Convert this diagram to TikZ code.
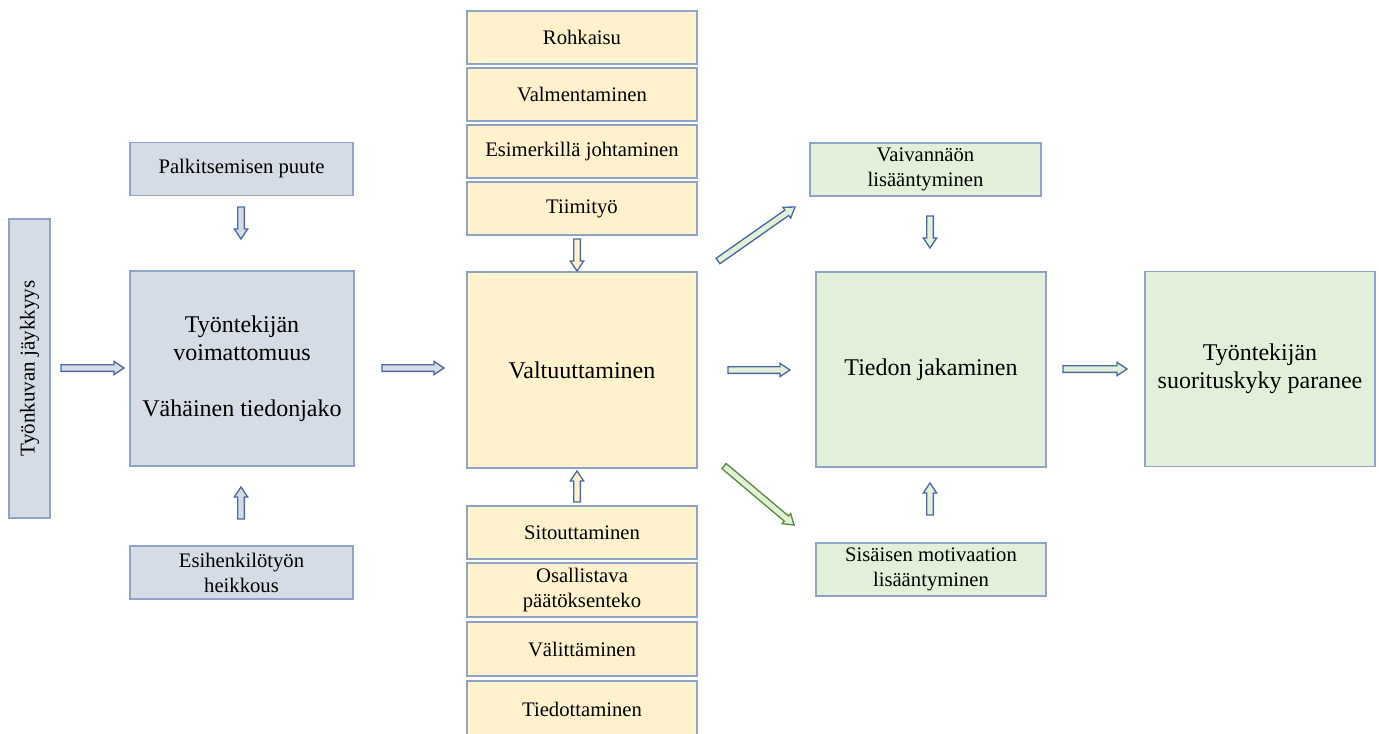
\documentclass[tikz,border=0pt]{standalone}
\usepackage{fontspec}
\setmainfont{Liberation Serif}
\usetikzlibrary{calc}
\definecolor{grayfill}{HTML}{D6DCE5}
\definecolor{yelfill}{HTML}{FFF2CC}
\definecolor{grnfill}{HTML}{E2F0D9}
\definecolor{boxline}{HTML}{8EA3C6}
\definecolor{arrline}{HTML}{4A6AA5}
\definecolor{grnline}{HTML}{5E8C3F}
\tikzset{
  box/.style={draw=boxline, line width=1.2pt, align=center, inner sep=1pt, font=\fontsize{15.5}{18.75}\selectfont},
  smallbox/.style={box, minimum width=#1*0.75pt, minimum height=53*0.75pt},
  bigbox/.style={box, minimum width=230*0.75pt, minimum height=195*0.75pt, font=\fontsize{18}{21}\selectfont},
  gbox/.style={fill=grayfill},
  ybox/.style={fill=yelfill},
  grbox/.style={fill=grnfill},
  barr/.style={draw=arrline, line width=1pt, line join=miter},
}
\newcommand\barrow[4]{% style fill, start, end
  \draw[barr,fill=#2,#1] ($(#3)!2.5pt!90:(#4)$) -- ($($(#4)!7.5pt!(#3)$)!2.5pt!-90:(#3)$)
   -- ($($(#4)!7.5pt!(#3)$)!5pt!-90:(#3)$) -- (#4)
   -- ($($(#4)!7.5pt!(#3)$)!5pt!90:(#3)$) -- ($($(#4)!7.5pt!(#3)$)!2.5pt!90:(#3)$)
   -- ($(#3)!2.5pt!-90:(#4)$) -- cycle;}
\begin{document}
\begin{tikzpicture}[x=0.75pt,y=-0.75pt]
\useasboundingbox (0,0) rectangle (1379,733);
% left column
\node[box,gbox,minimum width=299*0.75pt,minimum height=41*0.75pt,rotate=90,font=\fontsize{15.8}{18}\selectfont] (jay) at (29.5,368.5) {Työnkuvan jäykkyys};
\node[smallbox=223,gbox] (palk) at (241.5,169) {Palkitsemisen puute};
\node[bigbox,gbox,minimum width=224*0.75pt] (voim) at (242,368.5) {Työntekijän\\voimattomuus\\[21pt]Vähäinen tiedonjako};
\node[smallbox=223,gbox] (esih) at (241.5,572.5) {Esihenkilötyön\\heikkous};
% yellow column
\node[smallbox=230,ybox] (rohk) at (582,37.5) {Rohkaisu};
\node[smallbox=230,ybox] (valm) at (582,94.5) {Valmentaminen};
\node[smallbox=230,ybox] (esim) at (582,151.5) {Esimerkillä johtaminen};
\node[smallbox=230,ybox] (tiim) at (582,208.5) {Tiimityö};
\node[bigbox,ybox,minimum height=196*0.75pt] (valt) at (582,370) {Valtuuttaminen};
\node[smallbox=230,ybox] (sito) at (582,532.5) {Sitouttaminen};
\node[smallbox=230,ybox,minimum height=54*0.75pt] (osal) at (582,590) {Osallistava\\päätöksenteko};
\node[smallbox=230,ybox,minimum height=54*0.75pt] (vali) at (582,649) {Välittäminen};
\node[smallbox=230,ybox,minimum height=56*0.75pt] (tied) at (582,709) {Tiedottaminen};
% green column
\node[smallbox=231,grbox] (vaiv) at (925.5,169.5) {Vaivannäön\\lisääntyminen};
\node[bigbox,grbox] (jaka) at (931,369.5) {Tiedon jakaminen};
\node[smallbox=230,grbox] (sisa) at (931,569.5) {Sisäisen motivaation\\lisääntyminen};
\node[bigbox,grbox] (suor) at (1260,369) {Työntekijän\\suorituskyky paranee};
% arrow end points
\coordinate (a1s) at (61,368);  \coordinate (a1e) at (124,368);
\coordinate (a2s) at (382,368); \coordinate (a2e) at (444,368);
\coordinate (a3s) at (728,370); \coordinate (a3e) at (790,370);
\coordinate (a4s) at (1063,369);\coordinate (a4e) at (1127,369);
\coordinate (a5s) at (241,207); \coordinate (a5e) at (241,239);
\coordinate (a6s) at (241,519); \coordinate (a6e) at (241,487);
\coordinate (a7s) at (577,239); \coordinate (a7e) at (577,271);
\coordinate (a8s) at (577,502); \coordinate (a8e) at (577,471);
\coordinate (a9s) at (930,216); \coordinate (a9e) at (930,248);
\coordinate (a10s) at (930,515);\coordinate (a10e) at (930,483);
\coordinate (a11s) at (718,261);\coordinate (a11e) at (795,207);
\coordinate (a12s) at (724,466);\coordinate (a12e) at (794,525);
\barrow{}{grayfill}{a1s}{a1e}
\barrow{}{grayfill}{a2s}{a2e}
\barrow{}{grnfill}{a3s}{a3e}
\barrow{}{grnfill}{a4s}{a4e}
\barrow{}{grayfill}{a5s}{a5e}
\barrow{}{grayfill}{a6s}{a6e}
\barrow{}{yelfill}{a7s}{a7e}
\barrow{}{yelfill}{a8s}{a8e}
\barrow{}{grnfill}{a9s}{a9e}
\barrow{}{grnfill}{a10s}{a10e}
\barrow{}{grnfill}{a11s}{a11e}
\barrow{draw=grnline}{grnfill}{a12s}{a12e}
\end{tikzpicture}
\end{document}
